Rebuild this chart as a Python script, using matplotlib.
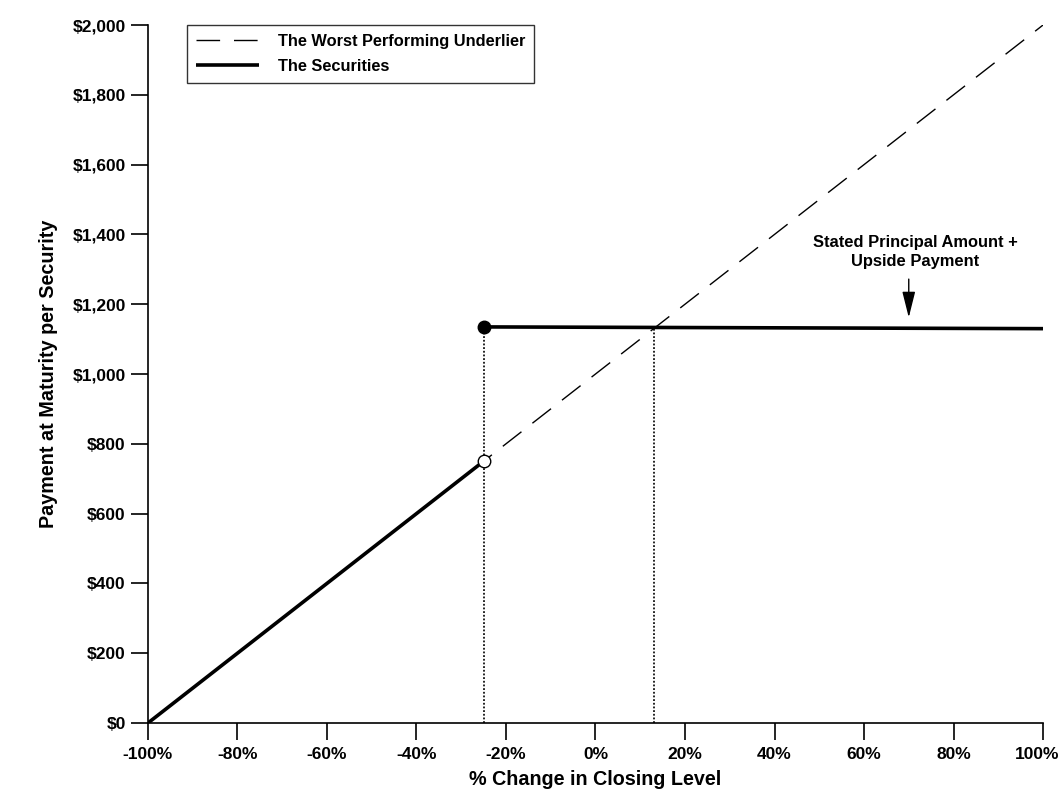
import matplotlib
matplotlib.use("Agg")
import matplotlib.pyplot as plt
import matplotlib.transforms as mtransforms
from matplotlib.ticker import FuncFormatter

plt.rcParams['font.family'] = ['Liberation Sans', 'DejaVu Sans']
plt.rcParams['font.weight'] = 'bold'

# Data
underlier_x = [-100, 100]
underlier_y = [0, 2000]
sec_low_x = [-100, -25]
sec_low_y = [0, 750]
sec_high_x = [-25, 100]
sec_high_y = [1135, 1130]
barrier_x = -25
cap_x = 13
open_pt = (-25, 750)
filled_pt = (-25, 1135)
x_ticks = [-100, -80, -60, -40, -20, 0, 20, 40, 60, 80, 100]
y_ticks = [0, 200, 400, 600, 800, 1000, 1200, 1400, 1600, 1800, 2000]

fig = plt.figure(figsize=(10.63, 8.08), dpi=100)
ax = fig.add_axes([0.1392, 0.1052, 0.842, 0.8638])

ax.plot(underlier_x, underlier_y, color='black', lw=1, dashes=(17, 10),
        label='The Worst Performing Underlier', zorder=2)
ax.plot(sec_low_x, sec_low_y, color='black', lw=2.6, solid_capstyle='butt',
        label='The Securities', zorder=3)
ax.plot(sec_high_x, sec_high_y, color='black', lw=2.6, solid_capstyle='butt', zorder=3)

ax.plot([barrier_x, barrier_x], [0, filled_pt[1]], color='black', lw=1.2,
        dashes=(1.1, 1.1), zorder=1)
ax.plot([cap_x, cap_x], [0, sec_high_y[0]], color='black', lw=1.2,
        dashes=(1.1, 1.1), zorder=1)

ax.plot([open_pt[0]], [open_pt[1]], marker='o', ms=9, mfc='white', mec='black',
        mew=1, zorder=5, linestyle='none')
ax.plot([filled_pt[0]], [filled_pt[1]], marker='o', ms=9, mfc='black', mec='black',
        zorder=5, linestyle='none')

ax.annotate('', xy=(70, 1162), xytext=(70, 1272),
            arrowprops=dict(arrowstyle='-|>,head_width=0.4,head_length=1.6',
                            color='black', lw=1, shrinkA=0, shrinkB=0))
ax.text(71.5, 1350, 'Stated Principal Amount +\nUpside Payment', ha='center', va='center',
        fontsize=11.9, fontweight='bold', linespacing=1.35)

ax.set_xlim(-100, 100)
ax.set_ylim(0, 2000)
ax.set_xticks(x_ticks)
ax.set_yticks(y_ticks)
ax.xaxis.set_major_formatter(FuncFormatter(lambda v, p: f'{int(v)}%'))
ax.yaxis.set_major_formatter(FuncFormatter(lambda v, p: f'${int(v):,}'))
ax.tick_params(axis='both', direction='out', length=12, width=1.2, labelsize=12.5, pad=4)
ax.tick_params(axis='x', length=12, pad=5)
ax.spines['top'].set_visible(False)
ax.spines['right'].set_visible(False)
for s in ['left', 'bottom']:
    ax.spines[s].set_linewidth(1.2)

# nudge the last x tick label left so it fits in the figure
last = ax.get_xticklabels()[-1]
last.set_transform(last.get_transform() + mtransforms.ScaledTranslation(-6 / 100, 0, fig.dpi_scale_trans))

ax.set_xlabel('% Change in Closing Level', fontsize=14.2, fontweight='bold', labelpad=6)
ax.set_ylabel('Payment at Maturity per Security', fontsize=14.2, fontweight='bold', labelpad=10)

leg = ax.legend(loc='upper left', bbox_to_anchor=(0.0436, 1.0), frameon=True, fancybox=False,
                edgecolor='black', fontsize=11.8, handlelength=3.85, borderpad=0.55,
                labelspacing=0.6, handletextpad=1.15, borderaxespad=0)
leg.get_frame().set_linewidth(1)
for t in leg.get_texts():
    t.set_fontweight('bold')

fig.savefig('out.png', dpi=100)
